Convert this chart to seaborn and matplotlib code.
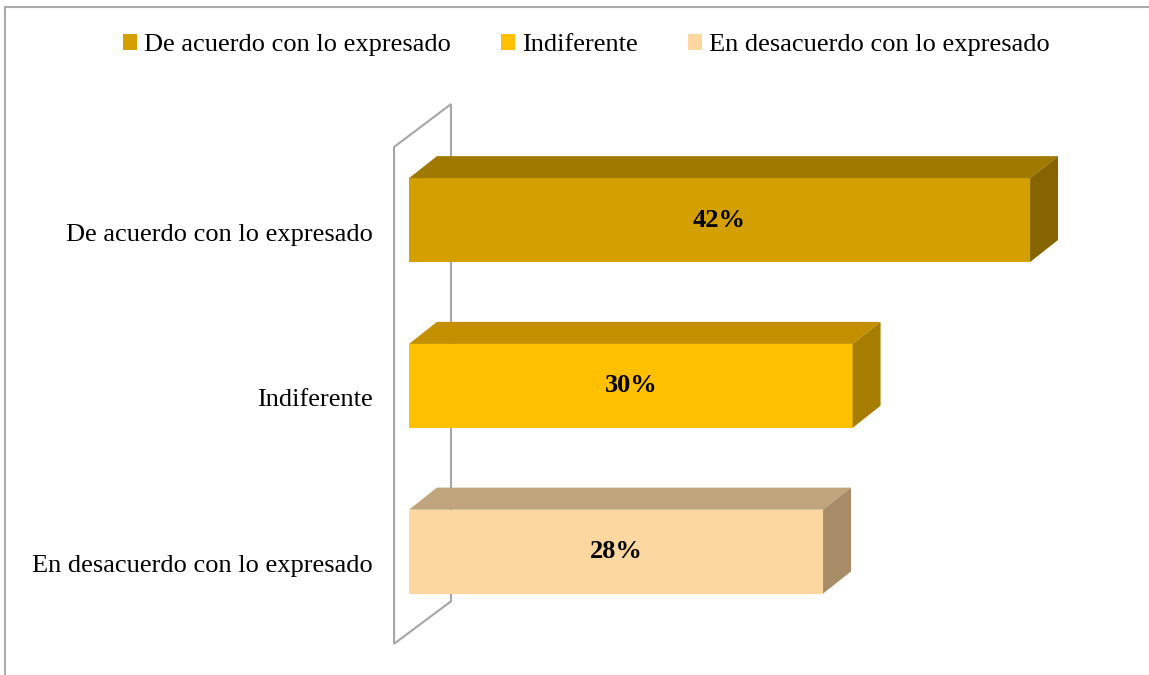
import matplotlib
matplotlib.use('Agg')
import matplotlib.pyplot as plt
import seaborn as sns
import pandas as pd
from matplotlib.patches import Polygon, Patch
from matplotlib.lines import Line2D
from matplotlib.transforms import ScaledTranslation

plt.rcParams['font.family'] = ['Liberation Serif', 'DejaVu Serif']

categorias = ['De acuerdo con lo expresado', 'Indiferente', 'En desacuerdo con lo expresado']
porcentajes = [42, 30, 28]
color_frente = ['#D4A000', '#FFC000', '#FDD7A0']
color_arriba = ['#A07A00', '#C49000', '#C0A47C']
color_lado = ['#866500', '#A67D00', '#A88C68']

df = pd.DataFrame({'Categoria': categorias, 'Porcentaje': porcentajes})

fig = plt.figure(figsize=(11.49, 6.75), dpi=100)
ax = fig.add_axes([409 / 1149, 14 / 675, 695 / 1149, 571 / 675])

sns.barplot(data=df, x='Porcentaje', y='Categoria', hue='Categoria',
            palette=color_frente, width=0.506, legend=False, orient='h',
            saturation=1, ax=ax, zorder=3)

ax.set_xlim(0, 47)
ax.set_ylim(2.66, -0.785)

# profundidad 3D (en unidades de datos)
dx = 1.89
dy = 0.133
for p, c_top, c_side in zip(ax.patches, color_arriba, color_lado):
    x0 = p.get_x()
    x1 = x0 + p.get_width()
    y0 = p.get_y()
    h = p.get_height()
    arriba = Polygon([(x0, y0), (x0 + dx, y0 - dy), (x1 + dx, y0 - dy), (x1, y0)],
                     closed=True, facecolor=c_top, edgecolor='none', zorder=3, clip_on=False)
    lado = Polygon([(x1, y0), (x1 + dx, y0 - dy), (x1 + dx, y0 + h - dy), (x1, y0 + h)],
                   closed=True, facecolor=c_side, edgecolor='none', zorder=3, clip_on=False)
    ax.add_patch(arriba)
    ax.add_patch(lado)

# pared lateral
pared = Polygon([(-1.01, -0.441), (2.84, -0.70), (2.84, 2.30), (-1.01, 2.556)],
                closed=True, fill=False, edgecolor='#A6A6A6', linewidth=1.5,
                zorder=1, clip_on=False)
ax.add_patch(pared)

# etiquetas
for cont in ax.containers:
    ax.bar_label(cont, fmt='%d%%', label_type='center', fontsize=19,
                 fontweight='bold', color='black')

for s in ax.spines.values():
    s.set_visible(False)
ax.set_xticks([])
ax.set_xlabel('')
ax.set_ylabel('')
ax.tick_params(axis='y', length=0, pad=26, labelsize=19)
for lbl in ax.get_yticklabels():
    lbl.set_transform(lbl.get_transform() + ScaledTranslation(0, -0.12, fig.dpi_scale_trans))

handles = [Patch(facecolor=c, edgecolor='none') for c in color_frente]
fig.legend(handles, categorias, loc='center', bbox_to_anchor=(586 / 1149, 1 - 45 / 675),
           ncol=3, frameon=False, fontsize=19, handlelength=0.55, handleheight=0.55,
           handletextpad=0.25, columnspacing=1.9)

# borde del gráfico
fig.add_artist(Line2D([5 / 1149, 1], [1 - 7 / 675, 1 - 7 / 675], color='#ABABAB', linewidth=1.5))
fig.add_artist(Line2D([5 / 1149, 5 / 1149], [0, 1 - 7 / 675], color='#ABABAB', linewidth=1.5))

fig.savefig('out.png', dpi=100)
